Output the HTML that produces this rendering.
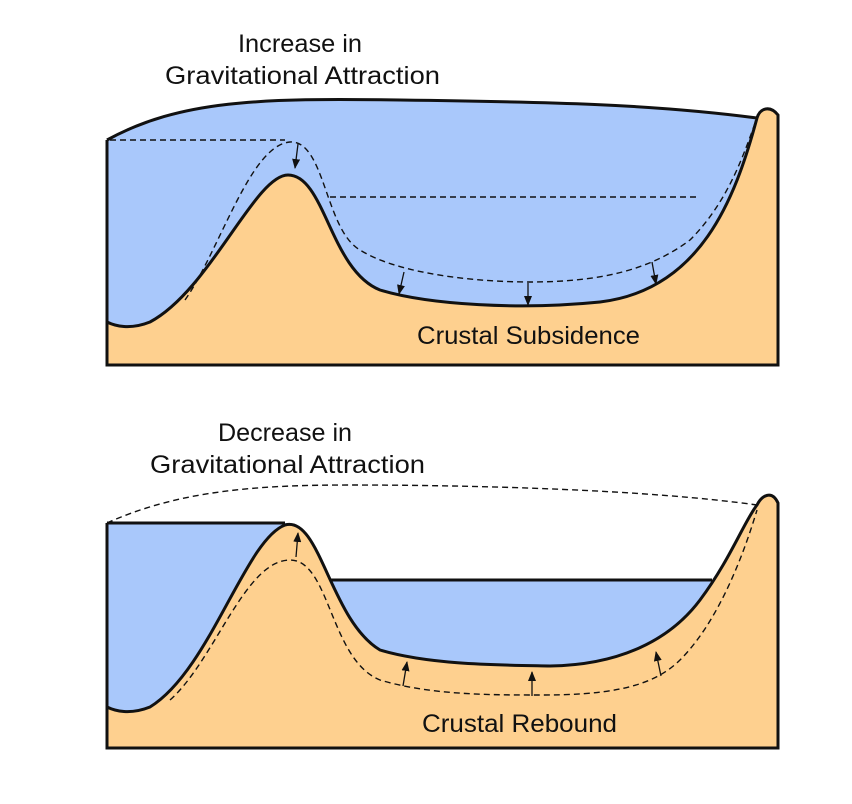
<!DOCTYPE html>
<html><head><meta charset="utf-8"><style>
html,body{margin:0;padding:0;background:#fff;}
svg{display:block;}
text{font-family:"Liberation Sans",sans-serif;font-size:25px;fill:#111;}
</style></head><body>
<svg width="852" height="804" viewBox="0 0 852 804">
<defs>
<marker id="ah" markerWidth="10" markerHeight="8" refX="9" refY="4" orient="auto" markerUnits="userSpaceOnUse">
<path d="M0,0 L10,4 L0,8 Z" fill="#111"/>
</marker>
</defs>
<g>
<path d="M107,140 C180,100 260,98 400,100 C550,102 650,104 757,118 L778,118 L778,365 L107,365 Z" fill="#a9c8fb"/>
<path d="M107,322 C115,326 130,330 150,322 C210,290 255,175 288,175 C325,175 330,270 380,290 C430,305 520,310 600,302 C700,290 735,200 757,118 C760,108 770,105 778,115 L778,365 L107,365 Z" fill="#fed08f"/>
<path d="M107,140 C180,100 260,98 400,100 C550,102 650,104 757,118 M107,140 L107,365 L778,365 L778,115 C770,105 760,108 757,118 C735,200 700,290 600,302 C520,310 430,305 380,290 C330,270 325,175 288,175 C255,175 210,290 150,322 C130,330 115,326 107,322" fill="none" stroke="#111" stroke-width="3"/>
<g fill="none" stroke="#111" stroke-width="1.4" stroke-dasharray="6,4">
<path d="M110,140 L285,140"/>
<path d="M185,300 C220,250 250,145 290,142 C325,140 325,230 360,250 C400,275 480,282 530,282 C600,282 650,270 690,240 C730,200 745,150 757,118"/>
<path d="M330,197 L700,197"/>
</g>
<g stroke="#111" stroke-width="1.3" marker-end="url(#ah)">
<line x1="298" y1="144" x2="295" y2="168"/>
<line x1="404" y1="272" x2="399" y2="294"/>
<line x1="528" y1="283" x2="528" y2="305"/>
<line x1="652" y1="262" x2="656" y2="284"/>
</g>
<text x="238" y="52" textLength="124" lengthAdjust="spacingAndGlyphs">Increase in</text>
<text x="165" y="84" textLength="275" lengthAdjust="spacingAndGlyphs">Gravitational Attraction</text>
<text x="417" y="344" textLength="223" lengthAdjust="spacingAndGlyphs">Crustal Subsidence</text>
</g>
<g>
<rect x="107" y="523" width="185" height="225" fill="#a9c8fb"/>
<rect x="320" y="580" width="400" height="168" fill="#a9c8fb"/>
<path d="M107,707 C115,711 130,715 150,707 C210,670 245,540 285,525 C320,515 330,620 380,650 C430,665 500,665 550,666 C620,665 670,640 700,600 C730,560 745,520 757,505 C762,495 772,490 778,503 L778,748 L107,748 Z" fill="#fed08f"/>
<path d="M107,523 L285,523 M330,580 L712,580 M107,523 L107,748 L778,748 L778,503 C772,490 762,495 757,505 C745,520 730,560 700,600 C670,640 620,665 550,666 C500,665 430,665 380,650 C330,620 320,515 285,525 C245,540 210,670 150,707 C130,715 115,711 107,707" fill="none" stroke="#111" stroke-width="3"/>
<g fill="none" stroke="#111" stroke-width="1.4" stroke-dasharray="6,4">
<path d="M170,700 C215,660 245,560 290,560 C330,560 330,660 380,680 C430,695 490,695 540,695 C600,695 650,690 680,660 C720,620 745,550 757,510"/>
<path d="M107,523 C180,490 260,485 350,485 C480,485 650,490 757,505"/>
</g>
<g stroke="#111" stroke-width="1.3" marker-end="url(#ah)">
<line x1="296" y1="557" x2="298" y2="533"/>
<line x1="403" y1="686" x2="407" y2="662"/>
<line x1="532" y1="696" x2="532" y2="672"/>
<line x1="661" y1="676" x2="656" y2="652"/>
</g>
<text x="218" y="441" textLength="134" lengthAdjust="spacingAndGlyphs">Decrease in</text>
<text x="150" y="473" textLength="275" lengthAdjust="spacingAndGlyphs">Gravitational Attraction</text>
<text x="422" y="732" textLength="195" lengthAdjust="spacingAndGlyphs">Crustal Rebound</text>
</g>
</svg>
</body></html>
